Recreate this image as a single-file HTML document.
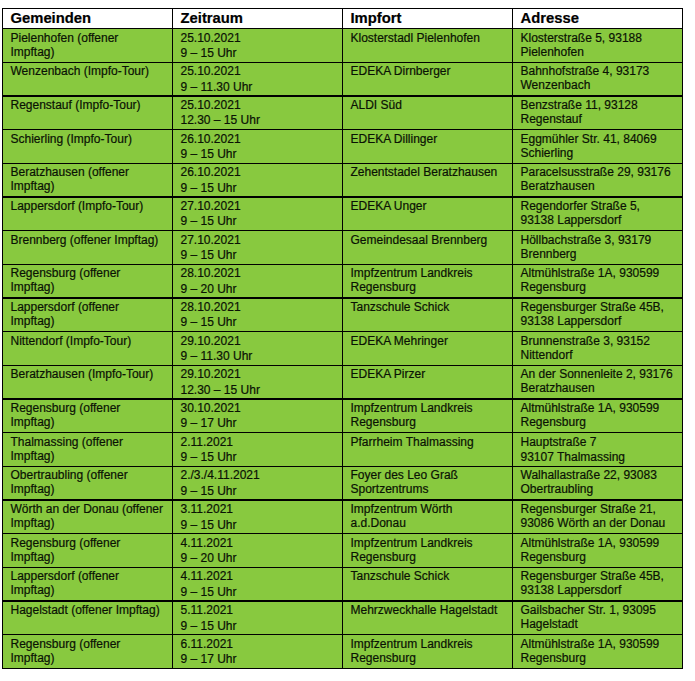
<!DOCTYPE html><html><head><meta charset="utf-8"><style>
html,body{margin:0;padding:0;background:#fff;width:695px;height:681px;overflow:hidden;}
body{position:relative;font-family:"Liberation Sans",sans-serif;color:#0a1204;-webkit-font-smoothing:antialiased;}
.t{-webkit-text-stroke:0.2px #0a1204;}
.h{-webkit-text-stroke:0.2px #000;}
svg{position:absolute;left:0;top:0;}
.t{position:absolute;white-space:nowrap;font-size:12px;line-height:20px;height:20px;}
.h{position:absolute;white-space:nowrap;font-size:14.8px;font-weight:bold;line-height:20px;height:20px;color:#000;}
</style></head><body>
<div style="position:absolute;left:2px;top:28px;width:680px;height:641px;background:#88c93f"></div>
<div style="position:absolute;left:2px;top:8px;width:681px;height:1px;background:#000"></div>
<div style="position:absolute;left:2px;top:28px;width:681px;height:1px;background:#000"></div>
<div style="position:absolute;left:2px;top:62px;width:681px;height:1px;background:#000"></div>
<div style="position:absolute;left:2px;top:95px;width:681px;height:2px;background:#000"></div>
<div style="position:absolute;left:2px;top:129px;width:681px;height:1px;background:#000"></div>
<div style="position:absolute;left:2px;top:163px;width:681px;height:1px;background:#000"></div>
<div style="position:absolute;left:2px;top:196px;width:681px;height:2px;background:#000"></div>
<div style="position:absolute;left:2px;top:230px;width:681px;height:1px;background:#000"></div>
<div style="position:absolute;left:2px;top:264px;width:681px;height:1px;background:#000"></div>
<div style="position:absolute;left:2px;top:297px;width:681px;height:2px;background:#000"></div>
<div style="position:absolute;left:2px;top:331px;width:681px;height:1px;background:#000"></div>
<div style="position:absolute;left:2px;top:365px;width:681px;height:1px;background:#000"></div>
<div style="position:absolute;left:2px;top:398px;width:681px;height:2px;background:#000"></div>
<div style="position:absolute;left:2px;top:432px;width:681px;height:1px;background:#000"></div>
<div style="position:absolute;left:2px;top:466px;width:681px;height:1px;background:#000"></div>
<div style="position:absolute;left:2px;top:499px;width:681px;height:2px;background:#000"></div>
<div style="position:absolute;left:2px;top:533px;width:681px;height:1px;background:#000"></div>
<div style="position:absolute;left:2px;top:567px;width:681px;height:1px;background:#000"></div>
<div style="position:absolute;left:2px;top:600px;width:681px;height:2px;background:#000"></div>
<div style="position:absolute;left:2px;top:634px;width:681px;height:1px;background:#000"></div>
<div style="position:absolute;left:2px;top:668px;width:681px;height:1px;background:#000"></div>
<div style="position:absolute;left:2px;top:8px;width:1px;height:661px;background:#000"></div>
<div style="position:absolute;left:172px;top:8px;width:1px;height:661px;background:#000"></div>
<div style="position:absolute;left:342px;top:8px;width:1px;height:661px;background:#000"></div>
<div style="position:absolute;left:512px;top:8px;width:1px;height:661px;background:#000"></div>
<div style="position:absolute;left:682px;top:8px;width:1px;height:661px;background:#000"></div>
<div class="h" style="left:10.50px;top:8.00px">Gemeinden</div>
<div class="h" style="left:180.50px;top:8.00px">Zeitraum</div>
<div class="h" style="left:350.50px;top:8.00px">Impfort</div>
<div class="h" style="left:520.50px;top:8.00px">Adresse</div>
<div class="t" style="left:10.50px;top:28px">Pielenhofen (offener</div>
<div class="t" style="left:10.50px;top:42px">Impftag)</div>
<div class="t" style="left:180.50px;top:28px">25.10.2021</div>
<div class="t" style="left:180.50px;top:43px">9 – 15 Uhr</div>
<div class="t" style="left:350.50px;top:28px">Klosterstadl Pielenhofen</div>
<div class="t" style="left:520.50px;top:28px">Klosterstraße 5, 93188</div>
<div class="t" style="left:520.50px;top:42px">Pielenhofen</div>
<div class="t" style="left:10.50px;top:61px">Wenzenbach (Impfo-Tour)</div>
<div class="t" style="left:180.50px;top:61px">25.10.2021</div>
<div class="t" style="left:180.50px;top:77px">9 – 11.30 Uhr</div>
<div class="t" style="left:350.50px;top:61px">EDEKA Dirnberger</div>
<div class="t" style="left:520.50px;top:61px">Bahnhofstraße 4, 93173</div>
<div class="t" style="left:520.50px;top:75px">Wenzenbach</div>
<div class="t" style="left:10.50px;top:95px">Regenstauf (Impfo-Tour)</div>
<div class="t" style="left:180.50px;top:95px">25.10.2021</div>
<div class="t" style="left:180.50px;top:110px">12.30 – 15 Uhr</div>
<div class="t" style="left:350.50px;top:95px">ALDI Süd</div>
<div class="t" style="left:520.50px;top:95px">Benzstraße 11, 93128</div>
<div class="t" style="left:520.50px;top:109px">Regenstauf</div>
<div class="t" style="left:10.50px;top:129px">Schierling (Impfo-Tour)</div>
<div class="t" style="left:180.50px;top:129px">26.10.2021</div>
<div class="t" style="left:180.50px;top:144px">9 – 15 Uhr</div>
<div class="t" style="left:350.50px;top:129px">EDEKA Dillinger</div>
<div class="t" style="left:520.50px;top:129px">Eggmühler Str. 41, 84069</div>
<div class="t" style="left:520.50px;top:143px">Schierling</div>
<div class="t" style="left:10.50px;top:162px">Beratzhausen (offener</div>
<div class="t" style="left:10.50px;top:176px">Impftag)</div>
<div class="t" style="left:180.50px;top:162px">26.10.2021</div>
<div class="t" style="left:180.50px;top:178px">9 – 15 Uhr</div>
<div class="t" style="left:350.50px;top:162px">Zehentstadel Beratzhausen</div>
<div class="t" style="left:520.50px;top:162px">Paracelsusstraße 29, 93176</div>
<div class="t" style="left:520.50px;top:176px">Beratzhausen</div>
<div class="t" style="left:10.50px;top:196px">Lappersdorf (Impfo-Tour)</div>
<div class="t" style="left:180.50px;top:196px">27.10.2021</div>
<div class="t" style="left:180.50px;top:211px">9 – 15 Uhr</div>
<div class="t" style="left:350.50px;top:196px">EDEKA Unger</div>
<div class="t" style="left:520.50px;top:196px">Regendorfer Straße 5,</div>
<div class="t" style="left:520.50px;top:210px">93138 Lappersdorf</div>
<div class="t" style="left:10.50px;top:230px">Brennberg (offener Impftag)</div>
<div class="t" style="left:180.50px;top:230px">27.10.2021</div>
<div class="t" style="left:180.50px;top:245px">9 – 15 Uhr</div>
<div class="t" style="left:350.50px;top:230px">Gemeindesaal Brennberg</div>
<div class="t" style="left:520.50px;top:230px">Höllbachstraße 3, 93179</div>
<div class="t" style="left:520.50px;top:244px">Brennberg</div>
<div class="t" style="left:10.50px;top:263px">Regensburg (offener</div>
<div class="t" style="left:10.50px;top:277px">Impftag)</div>
<div class="t" style="left:180.50px;top:263px">28.10.2021</div>
<div class="t" style="left:180.50px;top:279px">9 – 20 Uhr</div>
<div class="t" style="left:350.50px;top:263px">Impfzentrum Landkreis</div>
<div class="t" style="left:350.50px;top:277px">Regensburg</div>
<div class="t" style="left:520.50px;top:263px">Altmühlstraße 1A, 930599</div>
<div class="t" style="left:520.50px;top:277px">Regensburg</div>
<div class="t" style="left:10.50px;top:297px">Lappersdorf (offener</div>
<div class="t" style="left:10.50px;top:311px">Impftag)</div>
<div class="t" style="left:180.50px;top:297px">28.10.2021</div>
<div class="t" style="left:180.50px;top:312px">9 – 15 Uhr</div>
<div class="t" style="left:350.50px;top:297px">Tanzschule Schick</div>
<div class="t" style="left:520.50px;top:297px">Regensburger Straße 45B,</div>
<div class="t" style="left:520.50px;top:311px">93138 Lappersdorf</div>
<div class="t" style="left:10.50px;top:331px">Nittendorf (Impfo-Tour)</div>
<div class="t" style="left:180.50px;top:331px">29.10.2021</div>
<div class="t" style="left:180.50px;top:346px">9 – 11.30 Uhr</div>
<div class="t" style="left:350.50px;top:331px">EDEKA Mehringer</div>
<div class="t" style="left:520.50px;top:331px">Brunnenstraße 3, 93152</div>
<div class="t" style="left:520.50px;top:345px">Nittendorf</div>
<div class="t" style="left:10.50px;top:364px">Beratzhausen (Impfo-Tour)</div>
<div class="t" style="left:180.50px;top:364px">29.10.2021</div>
<div class="t" style="left:180.50px;top:380px">12.30 – 15 Uhr</div>
<div class="t" style="left:350.50px;top:364px">EDEKA Pirzer</div>
<div class="t" style="left:520.50px;top:364px">An der Sonnenleite 2, 93176</div>
<div class="t" style="left:520.50px;top:378px">Beratzhausen</div>
<div class="t" style="left:10.50px;top:398px">Regensburg (offener</div>
<div class="t" style="left:10.50px;top:412px">Impftag)</div>
<div class="t" style="left:180.50px;top:398px">30.10.2021</div>
<div class="t" style="left:180.50px;top:413px">9 – 17 Uhr</div>
<div class="t" style="left:350.50px;top:398px">Impfzentrum Landkreis</div>
<div class="t" style="left:350.50px;top:412px">Regensburg</div>
<div class="t" style="left:520.50px;top:398px">Altmühlstraße 1A, 930599</div>
<div class="t" style="left:520.50px;top:412px">Regensburg</div>
<div class="t" style="left:10.50px;top:432px">Thalmassing (offener</div>
<div class="t" style="left:10.50px;top:446px">Impftag)</div>
<div class="t" style="left:180.50px;top:432px">2.11.2021</div>
<div class="t" style="left:180.50px;top:447px">9 – 15 Uhr</div>
<div class="t" style="left:350.50px;top:432px">Pfarrheim Thalmassing</div>
<div class="t" style="left:520.50px;top:432px">Hauptstraße 7</div>
<div class="t" style="left:520.50px;top:447px">93107 Thalmassing</div>
<div class="t" style="left:10.50px;top:465px">Obertraubling (offener</div>
<div class="t" style="left:10.50px;top:479px">Impftag)</div>
<div class="t" style="left:180.50px;top:465px">2./3./4.11.2021</div>
<div class="t" style="left:180.50px;top:481px">9 – 15 Uhr</div>
<div class="t" style="left:350.50px;top:465px">Foyer des Leo Graß</div>
<div class="t" style="left:350.50px;top:479px">Sportzentrums</div>
<div class="t" style="left:520.50px;top:465px">Walhallastraße 22, 93083</div>
<div class="t" style="left:520.50px;top:479px">Obertraubling</div>
<div class="t" style="left:10.50px;top:499px">Wörth an der Donau (offener</div>
<div class="t" style="left:10.50px;top:513px">Impftag)</div>
<div class="t" style="left:180.50px;top:499px">3.11.2021</div>
<div class="t" style="left:180.50px;top:515px">9 – 15 Uhr</div>
<div class="t" style="left:350.50px;top:499px">Impfzentrum Wörth</div>
<div class="t" style="left:350.50px;top:513px">a.d.Donau</div>
<div class="t" style="left:520.50px;top:499px">Regensburger Straße 21,</div>
<div class="t" style="left:520.50px;top:513px">93086 Wörth an der Donau</div>
<div class="t" style="left:10.50px;top:533px">Regensburg (offener</div>
<div class="t" style="left:10.50px;top:547px">Impftag)</div>
<div class="t" style="left:180.50px;top:533px">4.11.2021</div>
<div class="t" style="left:180.50px;top:548px">9 – 20 Uhr</div>
<div class="t" style="left:350.50px;top:533px">Impfzentrum Landkreis</div>
<div class="t" style="left:350.50px;top:547px">Regensburg</div>
<div class="t" style="left:520.50px;top:533px">Altmühlstraße 1A, 930599</div>
<div class="t" style="left:520.50px;top:547px">Regensburg</div>
<div class="t" style="left:10.50px;top:566px">Lappersdorf (offener</div>
<div class="t" style="left:10.50px;top:580px">Impftag)</div>
<div class="t" style="left:180.50px;top:566px">4.11.2021</div>
<div class="t" style="left:180.50px;top:582px">9 – 15 Uhr</div>
<div class="t" style="left:350.50px;top:566px">Tanzschule Schick</div>
<div class="t" style="left:520.50px;top:566px">Regensburger Straße 45B,</div>
<div class="t" style="left:520.50px;top:580px">93138 Lappersdorf</div>
<div class="t" style="left:10.50px;top:600px">Hagelstadt (offener Impftag)</div>
<div class="t" style="left:180.50px;top:600px">5.11.2021</div>
<div class="t" style="left:180.50px;top:616px">9 – 15 Uhr</div>
<div class="t" style="left:350.50px;top:600px">Mehrzweckhalle Hagelstadt</div>
<div class="t" style="left:520.50px;top:600px">Gailsbacher Str. 1, 93095</div>
<div class="t" style="left:520.50px;top:614px">Hagelstadt</div>
<div class="t" style="left:10.50px;top:634px">Regensburg (offener</div>
<div class="t" style="left:10.50px;top:648px">Impftag)</div>
<div class="t" style="left:180.50px;top:634px">6.11.2021</div>
<div class="t" style="left:180.50px;top:649px">9 – 17 Uhr</div>
<div class="t" style="left:350.50px;top:634px">Impfzentrum Landkreis</div>
<div class="t" style="left:350.50px;top:648px">Regensburg</div>
<div class="t" style="left:520.50px;top:634px">Altmühlstraße 1A, 930599</div>
<div class="t" style="left:520.50px;top:648px">Regensburg</div>
</body></html>
